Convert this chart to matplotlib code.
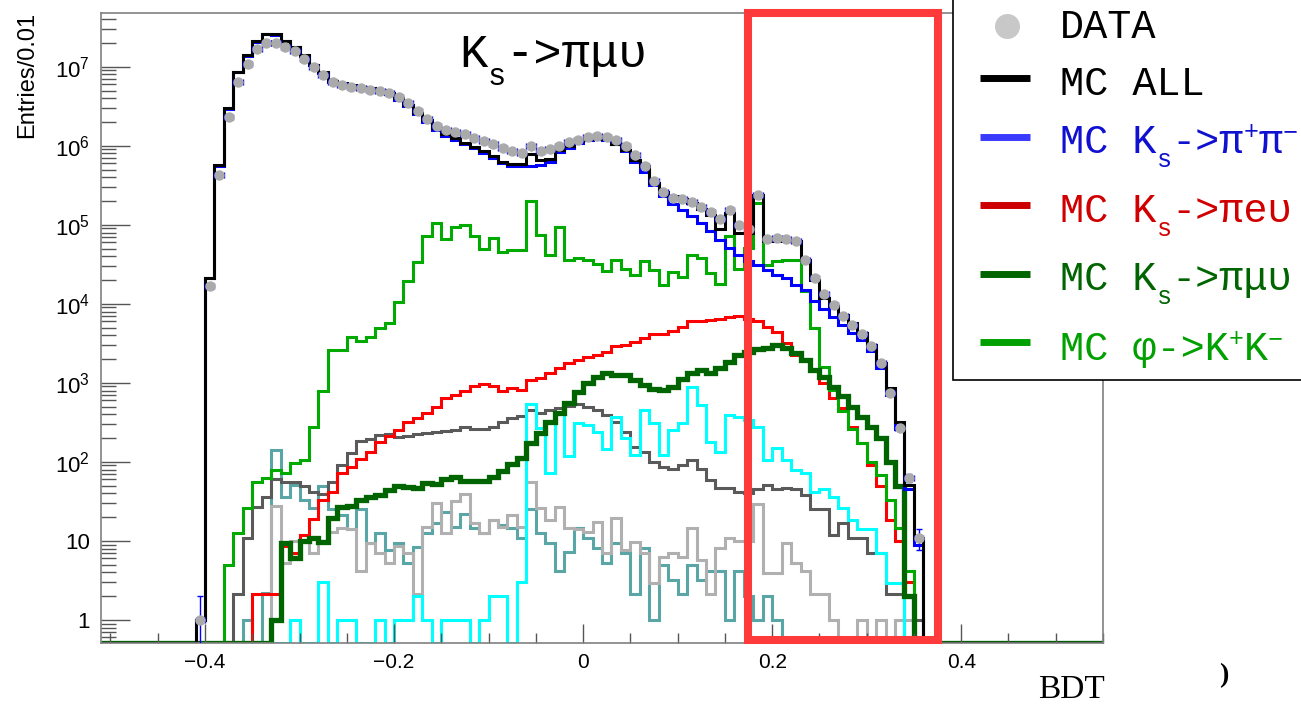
import numpy as np
import matplotlib
matplotlib.use('Agg')
import matplotlib.pyplot as plt
from matplotlib.patches import Rectangle
from matplotlib.lines import Line2D
from matplotlib.ticker import FixedLocator

plt.rcParams['font.family'] = ['Liberation Sans', 'DejaVu Sans']

# BDT bins of width 0.01, first bin is [-0.41, -0.40], last is [0.35, 0.36]
bin_lo = -0.41

data = [1, 1.7e4, 4.3e5, 2.3e6, 6.5e6, 1.1e7, 1.7e7, 2.0e7, 2.0e7, 1.8e7, 1.6e7,
        1.26e7, 1.0e7, 7.9e6, 6.5e6, 5.9e6, 5.6e6, 5.4e6, 5.1e6, 4.9e6, 4.7e6,
        4.2e6, 3.5e6, 2.8e6, 2.2e6, 1.8e6, 1.6e6, 1.5e6, 1.4e6, 1.26e6, 1.15e6,
        1.05e6, 9.3e5, 8.5e5, 8.1e5, 1.0e6, 8.7e5, 9.1e5, 1.0e6, 1.12e6, 1.2e6,
        1.3e6, 1.35e6, 1.3e6, 1.2e6, 1.0e6, 7.6e5, 5.5e5, 3.6e5, 2.6e5, 2.2e5,
        2.1e5, 1.95e5, 1.7e5, 1.45e5, 1.2e5, 1.55e5, 1.0e5, 8.9e4, 2.4e5, 6.6e4,
        6.8e4, 6.6e4, 6.3e4, 3.6e4, 2.1e4, 1.35e4, 9.8e3, 7.1e3, 5.4e3, 4.2e3,
        2.9e3, 1.8e3, 740, 270, 63, 11]

mc_all = [1, 2.1e4, 5.8e5, 3.0e6, 8.7e6, 1.4e7, 2.1e7, 2.6e7, 2.6e7, 2.1e7, 1.8e7,
          1.4e7, 1.07e7, 8.5e6, 6.6e6, 6.2e6, 5.9e6, 5.6e6, 5.4e6, 5.1e6, 4.7e6,
          4.0e6, 3.3e6, 2.6e6, 2.1e6, 1.66e6, 1.4e6, 1.26e6, 1.1e6, 9.8e5, 8.5e5,
          7.4e5, 6.3e5, 5.9e5, 5.9e5, 7.8e5, 6.6e5, 6.9e5, 8.9e5, 1.0e6, 1.15e6,
          1.23e6, 1.26e6, 1.23e6, 1.07e6, 8.9e5, 6.6e5, 5.5e5, 3.4e5, 2.6e5, 2.3e5,
          2.1e5, 1.9e5, 1.6e5, 1.35e5, 8.9e4, 1.4e5, 7.9e4, 7.9e4, 2.4e5, 6.3e4,
          6.3e4, 6.3e4, 6.3e4, 3.6e4, 2.0e4, 1.2e4, 9.3e3, 7.2e3, 5.8e3, 4.3e3,
          3.0e3, 1.8e3, 870, 320, 51, 11]

mc_pipi = [1, 2.1e4, 5.6e5, 2.95e6, 8.5e6, 1.38e7, 2.04e7, 2.57e7, 2.5e7, 2.1e7, 1.78e7,
           1.38e7, 1.05e7, 8.3e6, 6.5e6, 6.0e6, 5.75e6, 5.5e6, 5.25e6, 5.0e6, 4.5e6,
           3.8e6, 3.2e6, 2.5e6, 2.0e6, 1.6e6, 1.35e6, 1.2e6, 1.05e6, 9.3e5, 8.1e5,
           7.1e5, 6.0e5, 5.6e5, 5.5e5, 5.5e5, 5.75e5, 6.3e5, 8.3e5, 9.5e5, 1.1e6,
           1.2e6, 1.23e6, 1.2e6, 1.05e6, 8.5e5, 6.2e5, 4.6e5, 3.2e5, 2.3e5, 1.86e5,
           1.55e5, 1.3e5, 1.05e5, 8.3e4, 6.5e4, 5.1e4, 4.2e4, 3.5e4, 3.1e4, 2.7e4,
           2.35e4, 2.1e4, 1.74e4, 1.5e4, 1.1e4, 8.7e3, 6.9e3, 5.4e3, 4.3e3, 3.5e3,
           2.5e3, 1.55e3, 710, 260, 45, 9]

mc_pienu = [0, 0, 0, 0, 0, 0, 2.1, 2.1, 2.1, 8.5, 7,
            12, 19, 33, 42, 72, 85, 108, 135, 180, 215,
            250, 320, 360, 410, 500, 650, 700, 780, 900, 970,
            900, 800, 870, 810, 1100, 1150, 1350, 1550, 1780, 1950,
            2150, 2250, 2450, 2900, 3000, 3300, 3700, 4100, 4200, 4500,
            5100, 6000, 6000, 6200, 6500, 6800, 7100, 6500, 6000, 5100,
            4400, 3200, 2250, 1950, 1450, 1000, 650, 480, 280, 175,
            91, 49, 18.6, 10, 3, 0]

mc_pimunu = [0, 0, 0, 0, 0, 0, 0, 0, 1, 9.4, 6,
             10, 11, 9.8, 19.5, 27, 28, 33, 36, 38, 44,
             49, 48, 47, 54, 52, 60, 65, 58, 58, 58,
             65, 76, 95, 112, 174, 229, 324, 417, 550, 776,
             1000, 1200, 1320, 1260, 1260, 1100, 930, 830, 810, 890,
             1120, 1350, 1450, 1350, 1550, 1860, 2240, 2450, 2700, 2750,
             3000, 2750, 2400, 1950, 1450, 1200, 890, 680, 500, 370,
             280, 200, 100, 49, 2, 0]

mc_kk = [0, 0, 0, 5, 12.6, 26, 55, 63, 80, 72, 97,
         107, 280, 780, 2600, 2600, 3800, 3400, 3800, 5000, 5800,
         1.07e4, 1.95e4, 3.4e4, 7.2e4, 1.07e5, 6.6e4, 9.5e4, 1.0e5, 7.2e4, 5.0e4,
         6.8e4, 4.5e4, 4.8e4, 4.8e4, 2.0e5, 7.4e4, 4.1e4, 9.5e4, 3.6e4, 3.8e4,
         3.6e4, 3.2e4, 2.6e4, 3.6e4, 2.8e4, 2.35e4, 3.5e4, 2.7e4, 1.74e4, 2.5e4,
         2.2e4, 4.2e4, 3.8e4, 2.45e4, 1.8e4, 7.2e4, 2.8e4, 5.1e4, 1.9e5, 3.1e4,
         3.5e4, 3.6e4, 3.6e4, 1.45e4, 4900, 1600, 810, 440, 260, 174,
         100, 69, 33, 14.5, 4.1, 0]

bkg_dark = [0, 0, 0, 0, 2.1, 11, 27, 36, 60, 56, 56,
            49, 42, 39, 56, 92, 129, 185, 195, 220, 224,
            205, 213, 224, 235, 240, 245, 255, 280, 257, 257,
            280, 316, 355, 380, 447, 417, 457, 479, 513, 537,
            500, 457, 389, 316, 240, 155, 135, 100, 85, 81,
            91, 107, 81, 59, 47, 47, 42, 40, 45, 51,
            45, 47, 45, 38, 25, 25, 12, 17, 11, 11,
            7, 7, 2.1, 2.1, 0, 1]

bkg_cyan = [0, 0, 0, 0, 0, 0, 0, 0, 0, 0, 1,
            0, 0, 3, 0, 1, 1, 0, 0, 1, 0,
            1, 1, 2, 1, 0, 1, 1, 1, 0, 1,
            2, 2, 0, 3, 540, 270, 72, 415, 120, 315,
            295, 240, 145, 375, 200, 123, 455, 315, 123, 255,
            315, 890, 530, 180, 135, 390, 375, 340, 280, 107,
            150, 107, 79, 72, 42, 46, 36, 26, 18.5, 14,
            14, 7, 2.9, 2.9, 0, 0]

bkg_light = [0, 0, 0, 0, 0, 0, 0, 0, 28, 5.2, 10,
             10, 7, 10, 13, 14.5, 14, 4.1, 9.4, 7, 5.2,
             8.5, 7, 2.1, 15, 30, 12.5, 32, 39, 17, 12.5,
             18.5, 15, 21, 15, 56, 26, 18.5, 27, 14.5, 14,
             13, 17.5, 7, 19.5, 7.7, 9.8, 7, 2.9, 6.3, 7,
             6.3, 14.5, 5.7, 2.1, 8.1, 11, 10, 10, 29, 3.9,
             3.9, 9.4, 5.2, 4.1, 2.1, 2.1, 1, 0, 0, 1,
             0, 1, 0, 1, 1, 0]

bkg_teal = [0, 0, 0, 0, 0, 1, 0, 2.2, 140, 36, 51,
            33, 26, 49, 25, 21, 14, 25, 9.4, 12.5, 7.7,
            9.4, 5.2, 8.3, 12.5, 16.7, 23, 15, 22, 14.5, 12.5,
            18.5, 16, 14.5, 11, 25, 12.5, 9.4, 4.1, 7.3, 14.5,
            11, 8.1, 5.2, 9.4, 7, 2.1, 8.1, 1, 5, 3.2,
            2.1, 5, 3.2, 4.1, 4.1, 1, 4.1, 2, 1, 2,
            1, 0, 0, 0, 0, 0, 0, 0, 0, 0,
            0, 0, 0, 0, 0, 0]

W, H = 1301, 706
ymin, ymax = 0.51, 4.8e7

fig = plt.figure(figsize=(W / 100, H / 100), dpi=100)
ax = fig.add_axes([101 / W, 1 - 643 / H, 1002 / W, 630 / H])
ax.set_yscale('log')
ax.set_xlim(-0.51, 0.55)
ax.set_ylim(ymin, ymax)

# full range -0.51..0.55: 10 empty bins before, 19 after
edges = np.round(np.arange(107) * 0.01 - 0.51, 2)


def pad(v):
    return np.concatenate([np.zeros(10), np.array(v, float), np.zeros(19)])


series = [
    (bkg_teal, '#5aa5a5', 2.2),
    (bkg_light, '#b0b0b0', 2.2),
    (bkg_dark, '#5a5a5a', 2.2),
    (bkg_cyan, '#00ffff', 2.2),
    (mc_pienu, '#ff0000', 2.2),
    (mc_kk, '#00aa00', 2.2),
    (mc_pimunu, '#006400', 3.8),
    (mc_pipi, '#0000ff', 2.2),
    (mc_all, '#000000', 2.2),
]
for vals, col, lw in series:
    ax.stairs(np.clip(pad(vals), ymin, None), edges, baseline=None,
              color=col, lw=lw, joinstyle='miter')

d = np.array(data, float)
centers = bin_lo + 0.005 + 0.01 * np.arange(len(d))
m = d > 0
ax.errorbar(centers[m], d[m], xerr=0.005, yerr=np.sqrt(d[m]), fmt='o', ms=6.5,
            mfc='#aaaaaa', mec='#aaaaaa', ecolor='#0000ff', elinewidth=1,
            capsize=2, zorder=5)

# axes styling, ROOT-like
for s in ax.spines.values():
    s.set_color('#808080')
    s.set_linewidth(1.2)

ax.set_xticks([-0.4, -0.2, 0, 0.2, 0.4])
ax.set_xticklabels(['\u22120.4', '\u22120.2', '0', '0.2', '0.4'], fontsize=15)
ax.xaxis.set_minor_locator(FixedLocator(np.round(np.arange(-0.5, 0.551, 0.05), 2)))
ax.set_yticks([1, 10, 1e2, 1e3, 1e4, 1e5, 1e6, 1e7])
ax.set_yticklabels(['1', '10'] + ['$\\mathdefault{10^{%d}}$' % e for e in range(2, 8)],
                   fontsize=16)
ax.yaxis.set_minor_locator(FixedLocator([k * 10.0 ** e for e in range(-1, 8)
                                         for k in range(2, 10)]))
ax.tick_params(axis='y', which='major', direction='in', length=21, width=1,
               color='#555555', pad=8)
ax.tick_params(axis='y', which='minor', direction='in', length=11, width=1,
               color='#555555')
ax.tick_params(axis='x', which='major', direction='in', length=14, width=1,
               color='#555555', pad=7)
ax.tick_params(axis='x', which='minor', direction='in', length=7, width=1,
               color='#555555')

fig.text(27 / W, 1 - 12 / H, 'Entries/0.01', rotation=90, ha='center', va='top',
         fontsize=17)
fig.text(1105 / W, 1 - 705 / H, 'BDT', family='Liberation Serif', fontsize=24,
         ha='right', va='bottom')
fig.text(1224 / W, 1 - 682 / H, ')', family='Liberation Serif', fontsize=20,
         fontweight='bold', ha='center', va='baseline')

mono = ['Liberation Mono', 'DejaVu Sans Mono']
renderer = fig.canvas.get_renderer()


def rich(x, y, parts, color='black', z=12):
    # parts: (text, fontsize, drop in px below baseline); laid out left to right
    for s, size, dy in parts:
        t = fig.text(x / W, 1 - (y + dy) / H, s, color=color, family=mono,
                     fontsize=size, ha='left', va='baseline', zorder=z)
        x = t.get_window_extent(renderer).x1


# title inside the frame
rich(459, 67, [('K', 34, 0), ('s', 22, 18), ('->\u03c0\u03bc\u03c5', 34, 0)])

# signal region box
ax.add_patch(Rectangle((0.1746, 0.558), 0.3757 - 0.1746, 4.75e7 - 0.558,
                       fill=False, ec='#ff3a3a', lw=5.8, joinstyle='miter',
                       clip_on=False, zorder=6))

# legend box, partly outside the picture like the original
fig.add_artist(Rectangle((953 / W, 1 - 380 / H), 0.5, 0.7, transform=fig.transFigure,
                         fc='white', ec='black', lw=1.2, zorder=10))
fs, fss = 29, 18
leg_rows = [
    ([('DATA', fs, 0)], '#000000', None, 26, 38),
    ([('MC ALL', fs, 0)], '#000000', '#000000', 78, 95),
    ([('MC K', fs, 0), ('s', fss, 14), ('->\u03c0', fs, 0), ('+', fss, -14),
      ('\u03c0', fs, 0), ('\u2212', fss, -14)], '#1010d0', '#3a3aff', 137, 153),
    ([('MC K', fs, 0), ('s', fss, 14), ('->\u03c0e\u03c5', fs, 0)],
     '#d00000', '#cc0000', 205, 222),
    ([('MC K', fs, 0), ('s', fss, 14), ('->\u03c0\u03bc\u03c5', fs, 0)],
     '#006400', '#006400', 274, 290),
    ([('MC \u03c6->K', fs, 0), ('+', fss, -14), ('K', fs, 0), ('\u2212', fss, -14)],
     '#00a000', '#00a000', 342, 360),
]
for parts, tcol, hcol, yc, yb in leg_rows:
    if hcol is None:
        fig.add_artist(Line2D([1007 / W], [1 - yc / H], marker='o', ms=17,
                              color='#c8c8c8', ls='none',
                              transform=fig.transFigure, zorder=11))
    else:
        fig.add_artist(Line2D([980 / W, 1030 / W], [1 - yc / H, 1 - yc / H],
                              color=hcol, lw=5, solid_capstyle='butt',
                              transform=fig.transFigure, zorder=11))
    rich(1060, yb, parts, color=tcol)

fig.savefig('out.png', dpi=100)
